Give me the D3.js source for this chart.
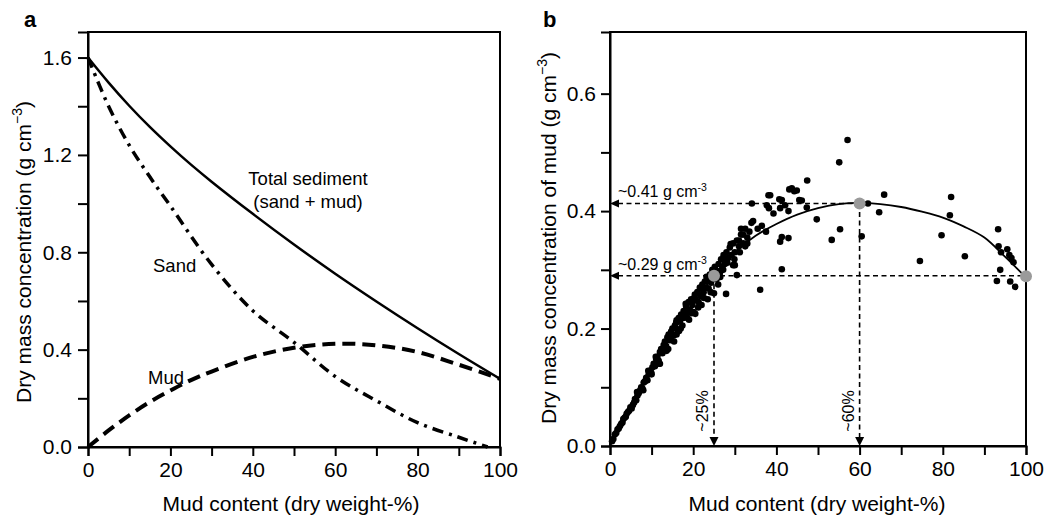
<!DOCTYPE html>
<html><head><meta charset="utf-8">
<script src="https://cdn.jsdelivr.net/npm/d3@7"></script>
<style>
body{margin:0;background:#fff;}
svg{display:block;font-family:"Liberation Sans",Arial,Helvetica,sans-serif;}
.axis path,.axis line{stroke:#000;stroke-width:2;}
.axis text{font-size:21px;fill:#000;font-family:"Liberation Sans",Arial,sans-serif;}
</style></head>
<body>
<svg id="c" width="1046" height="515"></svg>
<script>
// ---------- Panel a data ----------
const mudPctA = [0,5,10,15,20,25,30,40,50,60,70,80,90,100];
const totalConc = [1.60,1.497,1.402,1.315,1.235,1.16,1.09,0.958,0.832,0.712,0.598,0.488,0.382,0.28];
const mudConcA = [0,0.068,0.13,0.185,0.232,0.275,0.31,0.37,0.408,0.424,0.418,0.39,0.338,0.28];
const sandPct = [0,5,10,15,20,30,40,50,60,70,80,90,97];
const sandConc = [1.60,1.40,1.24,1.11,0.99,0.75,0.56,0.43,0.29,0.19,0.10,0.04,0.0];

// ---------- Panel b data ----------
const fitPct = [0,5,10,15,20,25,30,35,40,45,50,55,60,65,70,75,80,85,90,95,100];
const fitConc = [0,0.07,0.135,0.195,0.243,0.29,0.33,0.358,0.378,0.394,0.405,0.412,0.414,0.412,0.407,0.399,0.389,0.374,0.355,0.322,0.287];
const obsPct = [0.5,0.8,1.2,1.5,1.8,2.1,2.4,2.7,3.0,3.2,3.5,3.8,4.0,4.3,4.6,4.9,5.2,5.5,5.8,6.0,6.3,6.6,6.9,7.2,7.5,7.8,8.1,8.4,8.7,9.0,9.3,9.6,9.9,10.2,10.5,10.8,11.1,11.4,11.7,12.0,12.3,12.6,12.9,13.2,13.5,13.8,14.1,14.4,14.7,15.0,15.3,15.6,15.9,16.2,16.5,16.8,17.1,17.4,17.7,18.0,18.3,18.6,18.9,19.2,19.5,19.8,20.1,20.4,20.7,21.0,21.3,21.6,21.9,22.2,22.5,22.8,23.1,23.4,23.7,24.0,24.3,24.6,25.2,25.8,26.1,26.4,26.7,27.0,27.3,27.6,28.0,28.4,28.8,29.2,29.6,30.0,30.5,31.0,31.5,32.0,32.5,33.0,33.5,34.0,
 8.0,12.0,14.0,16.0,17.0,19.0,20.5,22.0,23.5,26.0,25.0,
 6.5,7.4,9.2,10.0,11.0,11.8,13.0,13.6,14.6,15.4,16.0,16.6,17.6,18.2,18.8,19.6,20.2,21.2,21.8,22.6,23.2,24.2,24.8,25.6,26.5,27.2,28.2,29.0,29.9,31.2,
 27.9,30.0,30.5,28.0,41.3,36.1,29.6,34.4,34.1,31.0,32.0,33.0,31.5,32.5,35.5,36.5,37.5,
 37.7,38.2,38.5,38.1,39.3,40.7,40.9,41.3,42.1,42.9,43.1,43.7,44.3,44.9,45.5,46.1,47.3,47.4,49.7,41.3,42.9,40.9,53.3,55.3,55.1,57.1,60.5,62.0,64.7,65.9,74.5,79.7,81.7,82.0,85.3,93.3,93.4,94.0,95.5,96.0,96.5,97.0,93.8,93.0,96.2,97.4];
const obsConc = [0.008,0.012,0.02,0.022,0.028,0.03,0.034,0.038,0.04,0.046,0.048,0.05,0.055,0.058,0.06,0.066,0.064,0.07,0.074,0.08,0.078,0.086,0.09,0.094,0.1,0.098,0.108,0.11,0.116,0.112,0.122,0.128,0.125,0.134,0.14,0.136,0.148,0.152,0.145,0.16,0.165,0.158,0.172,0.178,0.17,0.185,0.19,0.18,0.195,0.2,0.188,0.205,0.21,0.198,0.218,0.212,0.224,0.205,0.23,0.222,0.238,0.218,0.245,0.232,0.25,0.24,0.228,0.258,0.248,0.262,0.245,0.27,0.255,0.275,0.262,0.28,0.27,0.285,0.268,0.292,0.278,0.3,0.305,0.298,0.31,0.295,0.318,0.305,0.325,0.31,0.33,0.32,0.338,0.325,0.345,0.33,0.35,0.34,0.36,0.345,0.37,0.355,0.365,0.38,
 0.095,0.14,0.165,0.19,0.2,0.215,0.225,0.24,0.25,0.275,0.26,
 0.092,0.096,0.128,0.122,0.152,0.14,0.168,0.162,0.186,0.178,0.214,0.196,0.218,0.242,0.228,0.226,0.252,0.236,0.268,0.252,0.288,0.262,0.296,0.284,0.288,0.3,0.312,0.344,0.318,0.33,
 0.259,0.308,0.291,0.317,0.301,0.266,0.308,0.383,0.413,0.35,0.36,0.345,0.37,0.34,0.37,0.375,0.365,
 0.41,0.405,0.427,0.427,0.396,0.42,0.405,0.419,0.41,0.40,0.437,0.439,0.434,0.435,0.419,0.418,0.406,0.452,0.386,0.356,0.354,0.348,0.351,0.369,0.483,0.521,0.357,0.413,0.398,0.428,0.315,0.359,0.393,0.424,0.323,0.369,0.34,0.33,0.335,0.325,0.32,0.313,0.3,0.281,0.28,0.271];
const keyPct = [25,60,100];
const keyConc = [0.29,0.413,0.289];
const xTickVals = [0,10,20,30,40,50,60,70,80,90,100];
const yTicksA = [0,0.2,0.4,0.6,0.8,1.0,1.2,1.4,1.6];
const yTicksB = [0,0.1,0.2,0.3,0.4,0.5,0.6];

const svg = d3.select("#c");
const plotTop = 32, plotBottom = 447;

// ---------- Panel a ----------
const xa = d3.scaleLinear().domain([0,100]).range([88,500]);
const ya = d3.scaleLinear().domain([0,1.705]).range([plotBottom,plotTop]);
const ga = svg.append("g");
ga.append("rect").attr("x",88).attr("y",plotTop).attr("width",412).attr("height",plotBottom-plotTop)
  .attr("fill","none").attr("stroke","#000").attr("stroke-width",2);
ga.append("g").attr("class","axis").attr("transform",`translate(0,${plotBottom})`)
  .call(d3.axisBottom(xa).tickValues(xTickVals).tickSize(9).tickPadding(6)
    .tickFormat(d=>d%20===0?d:""));
ga.append("g").attr("class","axis").attr("transform","translate(88,0)")
  .call(d3.axisLeft(ya).tickValues(yTicksA).tickSize(10).tickPadding(6)
    .tickFormat(d=>Math.round(d*10)%4===0?d.toFixed(1):""));

const lineA = d3.line().curve(d3.curveCatmullRom);
ga.append("path").attr("d",lineA(mudPctA.map((p,i)=>[xa(p),ya(totalConc[i])])))
  .attr("fill","none").attr("stroke","#000").attr("stroke-width",2.5);
ga.append("path").attr("d",lineA(sandPct.map((p,i)=>[xa(p),ya(sandConc[i])])))
  .attr("fill","none").attr("stroke","#000").attr("stroke-width",3.5).attr("stroke-dasharray","11,6,3,6");
ga.append("path").attr("d",lineA(mudPctA.map((p,i)=>[xa(p),ya(mudConcA[i])])))
  .attr("fill","none").attr("stroke","#000").attr("stroke-width",4).attr("stroke-dasharray","13,7");

const ann = (g,x,y,t,anchor)=>g.append("text").attr("x",x).attr("y",y).attr("font-size",18.5)
  .attr("text-anchor",anchor||"start").text(t);
ann(ga,308,185,"Total sediment","middle");
ann(ga,308,208,"(sand + mud)","middle");
ann(ga,153,272,"Sand");
ann(ga,148,384,"Mud");

ga.append("text").attr("x",291).attr("y",511).attr("text-anchor","middle").attr("font-size",21)
  .text("Mud content (dry weight-%)");
const ta = ga.append("text").attr("transform","translate(31,252) rotate(-90)")
  .attr("text-anchor","middle").attr("font-size",21);
ta.append("tspan").text("Dry mass concentration (g cm");
ta.append("tspan").attr("dy",-9).attr("font-size",14).text("\u22123");
ta.append("tspan").attr("dy",9).text(")");
svg.append("text").attr("x",24).attr("y",27).attr("font-size",22).attr("font-weight","bold").text("a");

// ---------- Panel b ----------
const bBottom = 446;
const xb = d3.scaleLinear().domain([0,100]).range([610,1026]);
const yb = d3.scaleLinear().domain([0,0.705]).range([bBottom,plotTop]);
const gb = svg.append("g");
gb.append("rect").attr("x",610).attr("y",plotTop).attr("width",416).attr("height",bBottom-plotTop)
  .attr("fill","none").attr("stroke","#000").attr("stroke-width",2);

// dashed guide lines
const dashW = 1.6, dashA = "5,3.5";
gb.append("line").attr("x1",xb(0)+8).attr("x2",xb(keyPct[1])).attr("y1",yb(keyConc[1])).attr("y2",yb(keyConc[1]))
  .attr("stroke","#000").attr("stroke-width",dashW).attr("stroke-dasharray",dashA);
gb.append("line").attr("x1",xb(0)+8).attr("x2",xb(keyPct[2])).attr("y1",yb(keyConc[0])).attr("y2",yb(keyConc[0]))
  .attr("stroke","#000").attr("stroke-width",dashW).attr("stroke-dasharray",dashA);
[0,1].forEach(i=>{
  gb.append("line").attr("x1",xb(keyPct[i])).attr("x2",xb(keyPct[i])).attr("y1",yb(keyConc[i])).attr("y2",yb(0)-8)
    .attr("stroke","#000").attr("stroke-width",dashW).attr("stroke-dasharray",dashA);
  const cx = xb(keyPct[i]), by = yb(0);
  gb.append("path").attr("d",`M${cx-4.5},${by-9}L${cx+4.5},${by-9}L${cx},${by}Z`).attr("fill","#000");
  const ly = yb(keyConc[i]), lx = xb(0);
  gb.append("path").attr("d",`M${lx+9},${ly-4}L${lx+9},${ly+4}L${lx},${ly}Z`).attr("fill","#000");
});

// fitted curve
gb.append("path").attr("d",d3.line().curve(d3.curveCatmullRom)(fitPct.map((p,i)=>[xb(p),yb(fitConc[i])])))
  .attr("fill","none").attr("stroke","#000").attr("stroke-width",1.8);
// observations
gb.append("g").selectAll("circle").data(obsPct.map((p,i)=>[p,obsConc[i]])).join("circle")
  .attr("cx",d=>xb(d[0])).attr("cy",d=>yb(d[1])).attr("r",3.3).attr("fill","#000");
gb.append("g").selectAll("circle").data(keyPct.map((p,i)=>[p,keyConc[i]])).join("circle")
  .attr("cx",d=>xb(d[0])).attr("cy",d=>yb(d[1])).attr("r",6).attr("fill","#9a9a9a");

gb.append("g").attr("class","axis").attr("transform",`translate(0,${bBottom})`)
  .call(d3.axisBottom(xb).tickValues(xTickVals).tickSize(9).tickPadding(6)
    .tickFormat(d=>d%20===0?d:""));
gb.append("g").attr("class","axis").attr("transform","translate(610,0)")
  .call(d3.axisLeft(yb).tickValues(yTicksB).tickSize(9).tickPadding(5)
    .tickFormat(d=>Math.round(d*10)%2===0?d.toFixed(1):""));

// annotations
const annS = (y,val)=>{
  const t = gb.append("text").attr("x",618).attr("y",y).attr("font-size",16);
  t.append("tspan").text("~"+val+" g cm");
  t.append("tspan").attr("dy",-6).attr("font-size",10.5).text("-3");
};
annS(yb(keyConc[1])-6,"0.41");
annS(yb(keyConc[0])-6,"0.29");
[0,1].forEach(i=>{
  gb.append("text").attr("transform",`translate(${xb(keyPct[i])-6},411) rotate(-90)`)
    .attr("text-anchor","middle").attr("font-size",16).text("~"+keyPct[i]+"%");
});

gb.append("text").attr("x",817).attr("y",511).attr("text-anchor","middle").attr("font-size",21)
  .text("Mud content (dry weight-%)");
const tb = gb.append("text").attr("transform","translate(556,238) rotate(-90)")
  .attr("text-anchor","middle").attr("font-size",21);
tb.append("tspan").text("Dry mass concentration of mud (g cm");
tb.append("tspan").attr("dy",-9).attr("font-size",14).text("\u22123");
tb.append("tspan").attr("dy",9).text(")");
svg.append("text").attr("x",543).attr("y",27).attr("font-size",22).attr("font-weight","bold").text("b");
</script>
</body></html>
